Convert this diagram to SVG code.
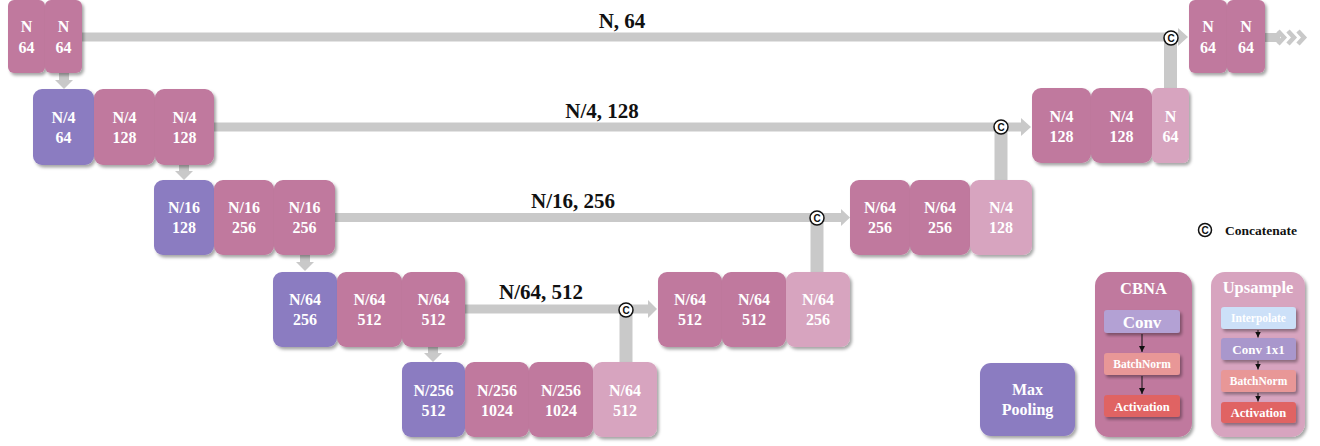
<svg xmlns="http://www.w3.org/2000/svg" width="1320" height="446" viewBox="0 0 1320 446">
<defs>
<filter id="sh" x="-20%" y="-20%" width="140%" height="140%">
<feDropShadow dx="2" dy="2.5" stdDeviation="1.5" flood-color="#000" flood-opacity="0.35"/>
</filter>
<marker id="ah" markerWidth="8" markerHeight="8" refX="6" refY="3" orient="auto" markerUnits="userSpaceOnUse">
<path d="M0,0 L6,3 L0,6 Z" fill="#111"/>
</marker>
</defs>
<style>
.pk{fill:#C0799E;filter:url(#sh)}
.pu{fill:#8B7BC1;filter:url(#sh)}
.lp{fill:#D7A4BF;filter:url(#sh)}
.t{font-family:"Liberation Serif","Times New Roman",serif;font-weight:bold;fill:#fff;text-anchor:middle;font-size:16px}
.lb{font-family:"Liberation Serif","Times New Roman",serif;font-weight:bold;fill:#111;text-anchor:middle;font-size:21px}
.gl{stroke:#C9C9C9;fill:none}
.ga{fill:#C9C9C9}
.cc{fill:#fff;stroke:#111;stroke-width:1.5}
.ct{font-family:"Liberation Sans",Arial,sans-serif;font-weight:bold;font-size:10px;fill:#111;text-anchor:middle}
.sub{font-family:"Liberation Serif","Times New Roman",serif;font-weight:bold;fill:#fff;text-anchor:middle}
.ar{stroke:#111;stroke-width:1;marker-end:url(#ah)}
</style>
<rect width="1320" height="446" fill="#fff"/>

<g id="connectors">
<!-- skip level 1 -->
<line class="gl" x1="82" y1="37" x2="1179" y2="37" stroke-width="9"/>
<polygon class="ga" points="1178,28 1188,37 1178,46"/>
<line class="gl" x1="1170.5" y1="90" x2="1170.5" y2="38" stroke-width="13"/>
<!-- skip level 2 -->
<line class="gl" x1="213" y1="127" x2="1022" y2="127" stroke-width="9"/>
<polygon class="ga" points="1021,118 1031,127 1021,136"/>
<line class="gl" x1="1001" y1="182" x2="1001" y2="127" stroke-width="13"/>
<!-- skip level 3 -->
<line class="gl" x1="333" y1="217.5" x2="842" y2="217.5" stroke-width="9"/>
<polygon class="ga" points="841,209 850,217.5 841,226"/>
<line class="gl" x1="817" y1="274" x2="817" y2="218" stroke-width="13"/>
<!-- skip level 4 -->
<line class="gl" x1="463" y1="309" x2="649" y2="309" stroke-width="9"/>
<polygon class="ga" points="648,300 657,309 648,318"/>
<line class="gl" x1="626" y1="364" x2="626" y2="310" stroke-width="13"/>
<!-- down arrows -->
<rect class="ga" x="59" y="73" width="10" height="8"/><polygon class="ga" points="55,80 73,80 64,89"/>
<rect class="ga" x="179" y="165" width="10" height="7"/><polygon class="ga" points="175,171 193,171 184,180"/>
<rect class="ga" x="300" y="255" width="10" height="8"/><polygon class="ga" points="296,262 314,262 305,271"/>
<rect class="ga" x="428" y="347" width="10" height="7"/><polygon class="ga" points="424,353 442,353 433,362"/>
<!-- output chevrons -->
<rect class="ga" x="1263" y="33" width="17" height="9"/>
<polyline class="gl" points="1278,31 1284,37.5 1278,44" stroke-width="4.5"/>
<polyline class="gl" points="1288,31 1294,37.5 1288,44" stroke-width="4.5"/>
<polyline class="gl" points="1298,31 1304,37.5 1298,44" stroke-width="4.5"/>
<!-- concat circles -->
<circle class="cc" cx="1171" cy="38" r="7"/><text class="ct" x="1171" y="41.5">C</text>
<circle class="cc" cx="1001" cy="127" r="7"/><text class="ct" x="1001" y="130.5">C</text>
<circle class="cc" cx="817" cy="218" r="7"/><text class="ct" x="817" y="221.5">C</text>
<circle class="cc" cx="626" cy="310" r="7"/><text class="ct" x="626" y="313.5">C</text>
<!-- labels -->
<text class="lb" x="622" y="28">N, 64</text>
<text class="lb" x="602" y="118">N/4, 128</text>
<text class="lb" x="573" y="208">N/16, 256</text>
<text class="lb" x="541" y="299">N/64, 512</text>
</g>

<g id="enc1a"><rect class="pk" x="8" y="0" width="37" height="73" rx="6"/><text class="t" x="26.5" y="32">N</text><text class="t" x="26.5" y="53">64</text></g>
<g id="enc1b"><rect class="pk" x="45" y="0" width="37" height="73" rx="6"/><text class="t" x="63.5" y="32">N</text><text class="t" x="63.5" y="53">64</text></g>

<g id="enc2a"><rect class="pu" x="33" y="89" width="61" height="76" rx="9"/><text class="t" x="63.5" y="123">N/4</text><text class="t" x="63.5" y="143">64</text></g>
<g id="enc2b"><rect class="pk" x="94" y="89" width="61" height="76" rx="9"/><text class="t" x="124.5" y="123">N/4</text><text class="t" x="124.5" y="143">128</text></g>
<g id="enc2c"><rect class="pk" x="155" y="89" width="59" height="76" rx="9"/><text class="t" x="184.5" y="123">N/4</text><text class="t" x="184.5" y="143">128</text></g>

<g id="enc3a"><rect class="pu" x="154" y="180" width="60" height="75" rx="9"/><text class="t" x="184" y="213">N/16</text><text class="t" x="184" y="233">128</text></g>
<g id="enc3b"><rect class="pk" x="214" y="180" width="60" height="75" rx="9"/><text class="t" x="244" y="213">N/16</text><text class="t" x="244" y="233">256</text></g>
<g id="enc3c"><rect class="pk" x="274" y="180" width="61" height="75" rx="9"/><text class="t" x="304.5" y="213">N/16</text><text class="t" x="304.5" y="233">256</text></g>

<g id="enc4a"><rect class="pu" x="273" y="272" width="64" height="75" rx="9"/><text class="t" x="305" y="305">N/64</text><text class="t" x="305" y="325">256</text></g>
<g id="enc4b"><rect class="pk" x="337" y="272" width="65" height="75" rx="9"/><text class="t" x="369.5" y="305">N/64</text><text class="t" x="369.5" y="325">512</text></g>
<g id="enc4c"><rect class="pk" x="402" y="272" width="63" height="75" rx="9"/><text class="t" x="433.5" y="305">N/64</text><text class="t" x="433.5" y="325">512</text></g>

<g id="bot1"><rect class="pu" x="402" y="362" width="63" height="75" rx="9"/><text class="t" x="433.5" y="396">N/256</text><text class="t" x="433.5" y="416">512</text></g>
<g id="bot2"><rect class="pk" x="465" y="362" width="64" height="75" rx="9"/><text class="t" x="497" y="396">N/256</text><text class="t" x="497" y="416">1024</text></g>
<g id="bot3"><rect class="pk" x="529" y="362" width="64" height="75" rx="9"/><text class="t" x="561" y="396">N/256</text><text class="t" x="561" y="416">1024</text></g>
<g id="bot4"><rect class="lp" x="593" y="362" width="64" height="75" rx="9"/><text class="t" x="625" y="396">N/64</text><text class="t" x="625" y="416">512</text></g>

<g id="dec4a"><rect class="pk" x="658" y="272" width="64" height="75" rx="9"/><text class="t" x="690" y="305">N/64</text><text class="t" x="690" y="325">512</text></g>
<g id="dec4b"><rect class="pk" x="722" y="272" width="64" height="75" rx="9"/><text class="t" x="754" y="305">N/64</text><text class="t" x="754" y="325">512</text></g>
<g id="dec4c"><rect class="lp" x="786" y="272" width="64" height="75" rx="9"/><text class="t" x="818" y="305">N/64</text><text class="t" x="818" y="325">256</text></g>

<g id="dec3a"><rect class="pk" x="850" y="180" width="60" height="75" rx="9"/><text class="t" x="880" y="213">N/64</text><text class="t" x="880" y="233">256</text></g>
<g id="dec3b"><rect class="pk" x="910" y="180" width="60" height="75" rx="9"/><text class="t" x="940" y="213">N/64</text><text class="t" x="940" y="233">256</text></g>
<g id="dec3c"><rect class="lp" x="970" y="180" width="62" height="75" rx="9"/><text class="t" x="1001" y="213">N/4</text><text class="t" x="1001" y="233">128</text></g>

<g id="dec2a"><rect class="pk" x="1032" y="88" width="59" height="75" rx="9"/><text class="t" x="1061.5" y="122">N/4</text><text class="t" x="1061.5" y="142">128</text></g>
<g id="dec2b"><rect class="pk" x="1091" y="88" width="61" height="75" rx="9"/><text class="t" x="1121.5" y="122">N/4</text><text class="t" x="1121.5" y="142">128</text></g>
<g id="dec2c"><rect class="lp" x="1152" y="88" width="37" height="75" rx="6"/><text class="t" x="1170.5" y="122">N</text><text class="t" x="1170.5" y="142">64</text></g>

<g id="dec1a"><rect class="pk" x="1189" y="0" width="38" height="73" rx="6"/><text class="t" x="1208" y="32">N</text><text class="t" x="1208" y="53">64</text></g>
<g id="dec1b"><rect class="pk" x="1227" y="0" width="38" height="73" rx="6"/><text class="t" x="1246" y="32">N</text><text class="t" x="1246" y="53">64</text></g>

<g id="legend-concat">
<circle class="cc" cx="1205" cy="230" r="6.5"/><text class="ct" x="1205" y="233.5">C</text>
<text x="1225" y="234.5" font-family="Liberation Serif, Times New Roman, serif" font-weight="bold" font-size="13.5" fill="#111">Concatenate</text>
</g>

<g id="legend-maxpool"><rect class="pu" x="980" y="363" width="95" height="73" rx="11"/><text class="t" x="1027.5" y="395">Max</text><text class="t" x="1027.5" y="415">Pooling</text></g>

<g id="legend-cbna">
<rect class="pk" x="1095" y="272" width="97" height="165" rx="14"/>
<text class="sub" x="1143.5" y="294" font-size="16.5">CBNA</text>
<rect x="1104" y="310" width="76" height="23" rx="3" fill="#B3A1D4" filter="url(#sh)"/>
<text class="sub" x="1142" y="327.5" font-size="17">Conv</text>
<line class="ar" x1="1142" y1="334" x2="1142" y2="352"/>
<rect x="1104" y="353" width="76" height="22" rx="3" fill="#E89797" filter="url(#sh)"/>
<text class="sub" x="1142" y="368" font-size="11.5">BatchNorm</text>
<line class="ar" x1="1142" y1="376" x2="1142" y2="394"/>
<rect x="1104" y="395" width="76" height="22" rx="3" fill="#E06464" filter="url(#sh)"/>
<text class="sub" x="1142" y="410.5" font-size="12.5">Activation</text>
</g>

<g id="legend-upsample">
<rect class="lp" x="1211" y="272" width="94" height="165" rx="14"/>
<text class="sub" x="1258" y="293" font-size="16.5">Upsample</text>
<rect x="1221" y="307" width="75" height="22" rx="3" fill="#CCE0F8" filter="url(#sh)"/>
<text class="sub" x="1258.5" y="322" font-size="11.5">Interpolate</text>
<line class="ar" x1="1258" y1="330" x2="1258" y2="337.5"/>
<rect x="1221" y="338" width="75" height="22" rx="3" fill="#A997CC" filter="url(#sh)"/>
<text class="sub" x="1258.5" y="353.5" font-size="13">Conv 1x1</text>
<line class="ar" x1="1258" y1="361" x2="1258" y2="369.5"/>
<rect x="1221" y="370" width="75" height="22" rx="3" fill="#E89797" filter="url(#sh)"/>
<text class="sub" x="1258.5" y="385" font-size="11.5">BatchNorm</text>
<line class="ar" x1="1258" y1="393" x2="1258" y2="401.5"/>
<rect x="1221" y="402" width="75" height="21" rx="3" fill="#E06464" filter="url(#sh)"/>
<text class="sub" x="1258.5" y="417" font-size="12.5">Activation</text>
</g>
</svg>
